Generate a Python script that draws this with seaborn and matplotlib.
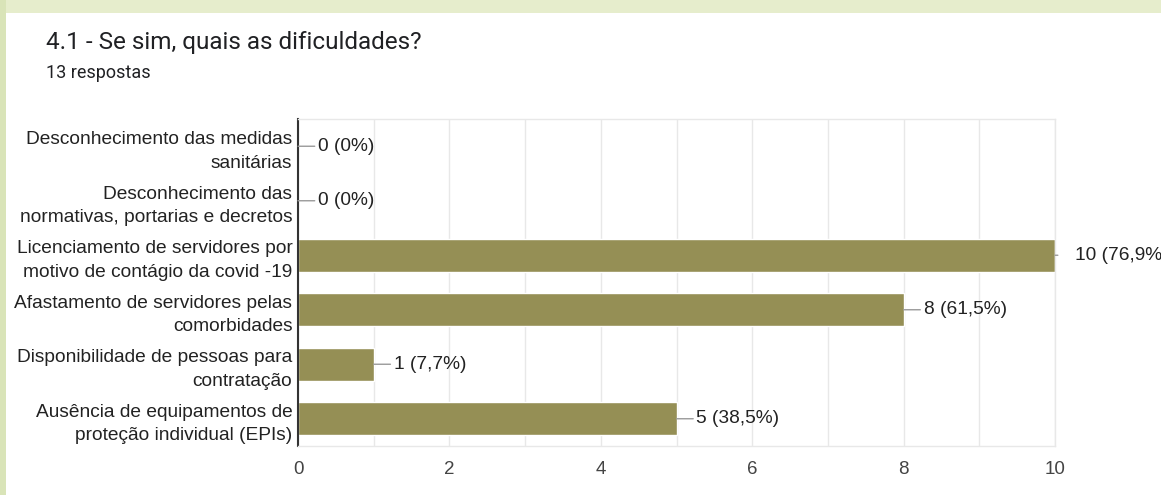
import matplotlib
matplotlib.use("Agg")
import matplotlib.pyplot as plt
from matplotlib.patches import Rectangle
import seaborn as sns
import pandas as pd

categories = [
    "Desconhecimento das medidas\nsanitárias",
    "Desconhecimento das\nnormativas, portarias e decretos",
    "Licenciamento de servidores por\nmotivo de contágio da covid -19",
    "Afastamento de servidores pelas\ncomorbidades",
    "Disponibilidade de pessoas para\ncontratação",
    "Ausência de equipamentos de\nproteção individual (EPIs)",
]
counts = [0, 0, 10, 8, 1, 5]
labels = ["0 (0%)", "0 (0%)", "10 (76,9%)", "8 (61,5%)", "1 (7,7%)", "5 (38,5%)"]
xticks = [0, 2, 4, 6, 8, 10]

title = "4.1 - Se sim, quais as dificuldades?"
subtitle = "13 respostas"

sns.set_theme(style="white")
plt.rcParams["font.family"] = ["Liberation Sans", "DejaVu Sans"]

df = pd.DataFrame({"cat": categories, "n": counts})

fig = plt.figure(figsize=(11.61, 4.95), dpi=100)
fig.patch.set_facecolor("white")
# decorative page background
fig.patches.append(Rectangle((0, 1 - 13 / 495), 1, 13 / 495, transform=fig.transFigure,
                             facecolor="#e6edcc", edgecolor="none", zorder=0))
fig.patches.append(Rectangle((0, 0), 6 / 1161, 1, transform=fig.transFigure,
                             facecolor="#d9e4b8", edgecolor="none", zorder=0))

ax = fig.add_axes([298 / 1161, 1 - 446 / 495, (1055 - 298) / 1161, (446 - 119) / 495])
sns.barplot(data=df, y="cat", x="n", color="#958f55", width=0.61, saturation=1,
            ax=ax, orient="h")

ax.set_xlim(0, 10)
ax.set_xticks(xticks)
ax.set_xticks(range(0, 11), minor=True)
ax.grid(axis="x", which="both", color="#e8e8e8", lw=1)
ax.set_axisbelow(True)
ax.set_xlabel("")
ax.set_ylabel("")
for s in ["top", "right", "bottom"]:
    ax.spines[s].set_color("#e8e8e8")
    ax.spines[s].set_linewidth(1)
ax.spines["left"].set_color("#333333")
ax.spines["left"].set_linewidth(1.5)
ax.tick_params(axis="x", length=0, pad=10.5, labelsize=13.5, labelcolor="#444444")
ax.tick_params(axis="y", length=0, pad=4, labelsize=13.8, labelcolor="#222222")
for t in ax.get_yticklabels():
    t.set_linespacing(1.5)

for i, (v, lab) in enumerate(zip(counts, labels)):
    ax.annotate(lab, xy=(v, i), xytext=(20, 0), textcoords="offset pixels",
                ha="left", va="center", fontsize=13.8, color="#222222",
                annotation_clip=False,
                arrowprops=dict(arrowstyle="-", color="#9a9a9a", lw=1,
                                shrinkA=0 if v < 10 else 10, shrinkB=0))

fig.text(46 / 1161, 1 - 42 / 495, title, fontsize=17.5, family=["Roboto", "DejaVu Sans"],
         color="#202124", va="center", ha="left")
fig.text(46 / 1161, 1 - 73 / 495, subtitle, fontsize=13, family=["Roboto", "DejaVu Sans"],
         color="#202124", va="center", ha="left")

fig.savefig("out.png", dpi=100)
